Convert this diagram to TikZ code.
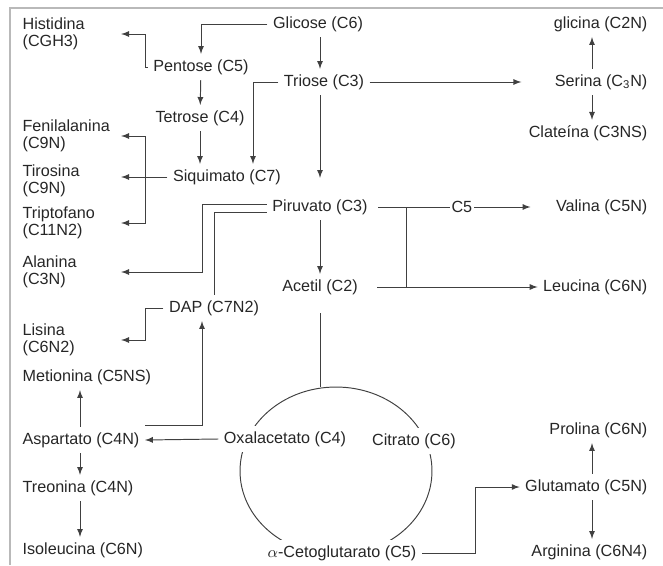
\documentclass[tikz,border=0pt]{standalone}
\usepackage{fontspec}
\setmainfont{Liberation Sans}
\usetikzlibrary{shapes.geometric,arrows,positioning}

\begin{document}
\begin{tikzpicture}[x=0.02cm,y=-0.02cm,>=latex,font=\fontsize{9.2}{9.8}\selectfont,
    txt/.style={inner sep=3pt,text=black!85},
    lft/.style={txt,anchor=west,text width=1.86cm,align=left},
    rgt/.style={txt,anchor=east},
    lnk/.style={draw=black!75,line width=0.55pt},
    cycle/.style={draw=black!75,line width=0.55pt,ellipse,minimum width=3.84cm,minimum height=3.36cm}]
    \useasboundingbox (0,0) rectangle (663,565);
    \draw[gray!55,line width=1pt] (10,565) -- (10,8) -- (663,8);

    % columns the connectors run along
    \coordinate (lx) at (80,0);
    \coordinate (jx) at (145,0);
    \coordinate (ax) at (202,0);
    \coordinate (cx) at (320,0);
    \coordinate (vx) at (406,0);
    \coordinate (gx) at (475,0);
    \coordinate (sx) at (592,0);

    % Krebs cycle first, so the labels on it cover the line
    \node[cycle] at (336,471) (krebs) {};

    % centre nodes
    \node[txt] at (318,24) (glicose) {Glicose (C6)};
    \node[txt] at (201,67) (pentose) {Pentose (C5)};
    \node[txt] at (324,82) (triose) {Triose (C3)};
    \node[txt] at (200,118) (tetrose) {Tetrose (C4)};
    \node[txt] at (227,177) (siquimato) {Siquimato (C7)};
    \node[txt] at (320,207) (piruvato) {Piruvato (C3)};
    \node[txt] at (320,287) (acetil) {Acetil (C2)};
    \node[txt] at (214,308) (dap) {DAP (C7N2)};
    \node[txt,fill=white] at (285,439) (oxal) {Oxalacetato (C4)};
    \node[txt,fill=white] at (414,441) (citrato) {Citrato (C6)};
    \node[txt,fill=white] at (342,553) (ceto) {$\alpha$-Cetoglutarato (C5)};

    % left column
    \node[lft] at (17,34) (histidina) {Histidina\\(CGH3)};
    \node[lft] at (17,136) (fenil) {Fenilalanina\\(C9N)};
    \node[lft] at (17,181) (tirosina) {Tirosina\\(C9N)};
    \node[lft] at (17,223) (tripto) {Triptofano\\(C11N2)};
    \node[lft] at (17,272) (alanina) {Alanina\\(C3N)};
    \node[lft] at (17,340) (lisina) {Lisina\\(C6N2)};
    \node[txt,anchor=west] at (17,377) (metionina) {Metionina (C5NS)};
    \node[txt,anchor=west] at (17,440) (aspartato) {Aspartato (C4N)};
    \node[txt,anchor=west] at (17,488) (treonina) {Treonina (C4N)};
    \node[txt,anchor=west] at (17,550) (isoleucina) {Isoleucina (C6N)};

    % right column
    \node[rgt] at (653,24) (glicina) {glicina (C2N)};
    \node[rgt] at (653,82) (serina) {Serina (C\textsubscript{3}N)};
    \node[rgt] at (653,133) (clateina) {Clateína (C3NS)};
    \node[rgt] at (653,207) (valina) {Valina (C5N)};
    \node[rgt] at (653,287) (leucina) {Leucina (C6N)};
    \node[rgt] at (653,430) (prolina) {Prolina (C6N)};
    \node[rgt] at (653,487) (glutamato) {Glutamato (C5N)};
    \node[rgt] at (653,552) (arginina) {Arginina (C6N4)};

    % glycolysis and pentose branch
    \draw[lnk,->] (glicose.west) -| (pentose.north);
    \draw[lnk,->] (glicose.south -| cx) -- (triose.north -| cx);
    \draw[lnk,->] (pentose.west) -| (jx |- histidina.east) -- (histidina.east);
    \draw[lnk,->] (pentose) -- (tetrose);
    \draw[lnk,->] (tetrose.south) -- (tetrose.south |- siquimato.north);
    \draw[lnk,->] (triose.west) -| ([xshift=0.52cm]siquimato.north);
    \draw[lnk,->,shorten >=0.32cm] (triose.south -| cx) -- (piruvato.north -| cx);
    \draw[lnk,->,shorten >=0.56cm] (triose.east) -- (serina.west);
    \draw[lnk,->] (serina.north -| sx) -- (glicina.south -| sx);
    \draw[lnk,->] (serina.south -| sx) -- (clateina.north -| sx);

    % aromatic amino acids
    \draw[lnk,->] (siquimato.west) -- (siquimato.west -| tirosina.east);
    \draw[lnk,->] (jx |- siquimato.west) |- (fenil.east);
    \draw[lnk,->] (jx |- siquimato.west) |- (tripto.east);

    % pyruvate and acetyl
    \draw[lnk,->] ([yshift=0.06cm]piruvato.west) -| (ax |- alanina.east) -- (alanina.east);
    \draw[lnk] ([yshift=-0.1cm]piruvato.west) -| (dap.north);
    \draw[lnk,->] (dap.west) -| (jx |- lisina.east) -- (lisina.east);
    \draw[lnk,->] (piruvato.south -| cx) -- (acetil.north -| cx);
    \draw[lnk,->,shorten <=0.1cm,shorten >=0.4cm] (piruvato.east) -- node[txt,fill=white,inner sep=1pt]{C5} (valina.west);
    \draw[lnk,->,shorten <=0.28cm] (acetil.east) -- (leucina.west);
    \draw[lnk] (vx |- piruvato.east) -- (vx |- acetil.east);
    \draw[lnk,shorten <=0.26cm] (acetil.south -| cx) -- (krebs.north -| cx);

    % aspartate family
    \draw[lnk,->] (oxal.west) -- (aspartato.east);
    \draw[lnk,->] ([yshift=0.3cm]aspartato.east) -| (ax |- dap.south);
    \draw[lnk,->] (aspartato.north -| lx) -- (metionina.south -| lx);
    \draw[lnk,->] (aspartato.south -| lx) -- (treonina.north -| lx);
    \draw[lnk,->] (treonina.south -| lx) -- (isoleucina.north -| lx);

    % glutamate family
    \draw[lnk,->] (ceto.east) -| (gx |- glutamato.west) -- (glutamato.west);
    \draw[lnk,->] (glutamato.north -| sx) -- (prolina.south -| sx);
    \draw[lnk,->] (glutamato.south -| sx) -- (arginina.north -| sx);
\end{tikzpicture}
\end{document}
